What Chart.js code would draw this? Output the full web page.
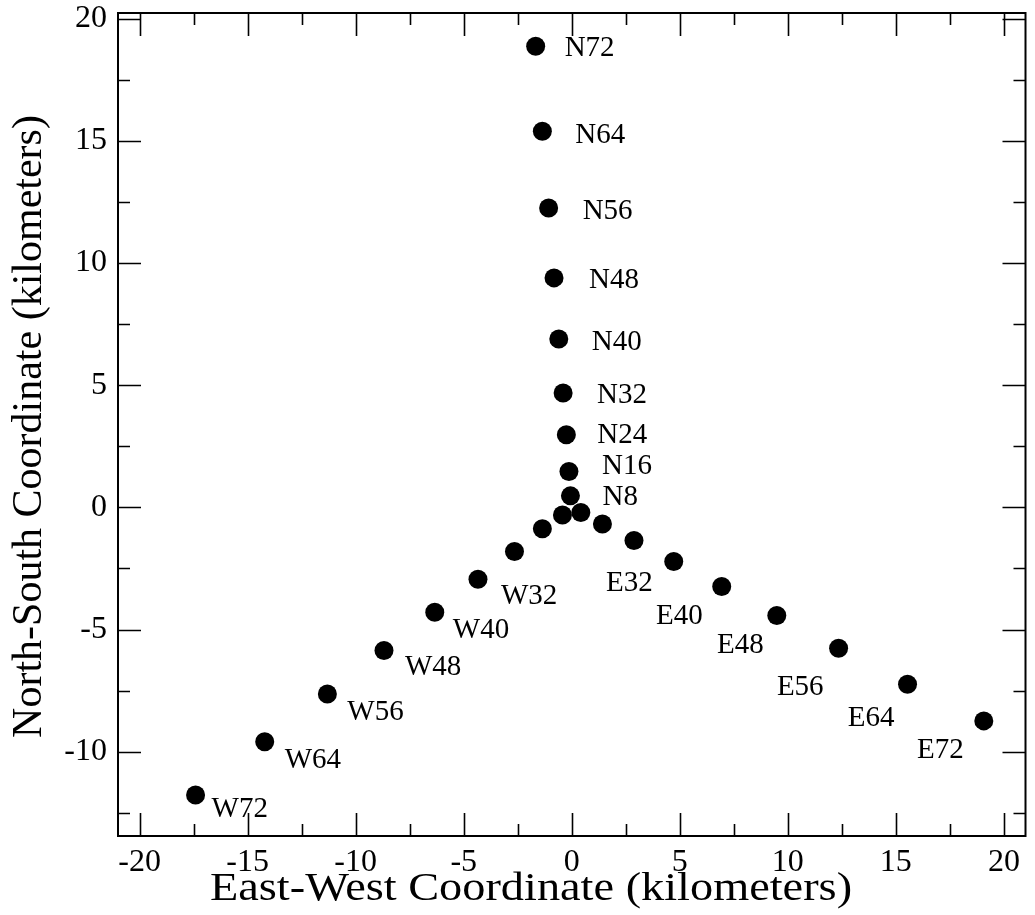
<!DOCTYPE html>
<html>
<head>
<meta charset="utf-8">
<style>
html,body{margin:0;padding:0;background:#ffffff;}
#wrap{width:1035px;height:915px;position:relative;}
</style>
<script src="https://cdn.jsdelivr.net/npm/chart.js@4.4.1/dist/chart.umd.min.js"></script>
</head>
<body>
<div id="wrap"><canvas id="c" width="1035" height="915"></canvas></div>
<script>
// ---- data (kilometers) ----
const northLabels = ["N8","N16","N24","N32","N40","N48","N56","N64","N72"];
const northX = [-0.06, -0.13, -0.25, -0.40, -0.60, -0.82, -1.07, -1.36, -1.67];
const northY = [0.47, 1.47, 2.97, 4.68, 6.89, 9.39, 12.25, 15.39, 18.87];

const westLabels = ["W8","W16","W24","W32","W40","W48","W56","W64","W72"];
const westX = [-0.43, -1.36, -2.65, -4.34, -6.34, -8.69, -11.31, -14.21, -17.41];
const westY = [-0.31, -0.88, -1.81, -2.94, -4.29, -5.86, -7.64, -9.59, -11.77];

const eastLabels = ["E8","E16","E24","E32","E40","E48","E56","E64","E72"];
const eastX = [0.42, 1.42, 2.88, 4.72, 6.94, 9.49, 12.35, 15.54, 19.07];
const eastY = [-0.21, -0.68, -1.36, -2.22, -3.24, -4.43, -5.77, -7.24, -8.74];

// which labels are shown on the picture
const westShown = [false,false,false,true,true,true,true,true,true];
const eastShown = [false,false,false,true,true,true,true,true,true];
const northShown = [true,true,true,true,true,true,true,true,true];

const xTitle = "East-West Coordinate (kilometers)";
const yTitle = "North-South Coordinate (kilometers)";

// ---- styles / label placement (pixel offsets from the marker centre) ----
const northOffsets = [[32,9],[33,3],[31,8],[34,10],[33,11],[35,10],[34,11],[33,12],[29,10]];
const westOffsets  = [[0,0],[0,0],[0,0],[23,25],[18,26],[21,24],[20,26],[20,26],[16,22]];
const eastOffsets  = [[0,0],[0,0],[0,0],[-21,29],[-19,37],[-13,37],[-15,47],[-13,42],[-20,37]];

const FONT = "'Liberation Serif','Times New Roman',serif";

function pts(xs, ys){ return xs.map((x,i)=>({x:x, y:ys[i]})); }

const series = [
  {name:"North", xs:northX, ys:northY, labels:northLabels, shown:northShown, off:northOffsets, align:"left"},
  {name:"West",  xs:westX,  ys:westY,  labels:westLabels,  shown:westShown,  off:westOffsets,  align:"left"},
  {name:"East",  xs:eastX,  ys:eastY,  labels:eastLabels,  shown:eastShown,  off:eastOffsets,  align:"right"}
];

const frameAndTicks = {
  id: "frameAndTicks",
  afterDatasetsDraw(chart){
    const ctx = chart.ctx;
    ctx.save();
    ctx.fillStyle = "#000";
    ctx.font = "29px " + FONT;
    ctx.textBaseline = "alphabetic";
    series.forEach((s, di) => {
      const meta = chart.getDatasetMeta(di);
      meta.data.forEach((el, i) => {
        if (!s.shown[i]) return;
        ctx.textAlign = s.align;
        ctx.fillText(s.labels[i], el.x + s.off[i][0], el.y + s.off[i][1]);
      });
    });
    ctx.restore();
  },
  afterDraw(chart){
    const ctx = chart.ctx;
    const a = chart.chartArea;
    const xs = chart.scales.x, ys = chart.scales.y;
    ctx.save();
    ctx.strokeStyle = "#000";
    ctx.lineWidth = 2;
    ctx.strokeRect(a.left, a.top, a.right - a.left, a.bottom - a.top);
    ctx.lineWidth = 1.6;
    const major = 23, minor = 12, step = 2.5;
    ctx.beginPath();
    for (let v = Math.ceil(xs.min/step)*step; v <= xs.max + 1e-9; v += step) {
      const p = Math.round(xs.getPixelForValue(v)) + 0.5;
      const L = (Math.abs(v/5 - Math.round(v/5)) < 1e-6) ? major : minor;
      ctx.moveTo(p, a.bottom); ctx.lineTo(p, a.bottom - L);
      ctx.moveTo(p, a.top); ctx.lineTo(p, a.top + L);
    }
    for (let v = Math.ceil(ys.min/step)*step; v <= ys.max + 1e-9; v += step) {
      const p = Math.round(ys.getPixelForValue(v)) + 0.5;
      const L = (Math.abs(v/5 - Math.round(v/5)) < 1e-6) ? major : minor;
      ctx.moveTo(a.left, p); ctx.lineTo(a.left + L, p);
      ctx.moveTo(a.right, p); ctx.lineTo(a.right - L, p);
    }
    ctx.stroke();

    // axis titles
    ctx.fillStyle = "#000";
    ctx.textBaseline = "alphabetic";
    ctx.textAlign = "center";
    ctx.save();
    ctx.translate(531, 900);
    ctx.scale(1.13, 1);
    ctx.font = "41px " + FONT;
    ctx.fillText(xTitle, 0, 0);
    ctx.restore();
    ctx.save();
    ctx.translate(41, (a.top + a.bottom) / 2 + 2);
    ctx.rotate(-Math.PI / 2);
    ctx.font = "42px " + FONT;
    ctx.fillText(yTitle, 0, 0);
    ctx.restore();
    ctx.restore();
  }
};

new Chart(document.getElementById("c"), {
  type: "scatter",
  data: {
    datasets: series.map(s => ({
      label: s.name,
      data: pts(s.xs, s.ys),
      backgroundColor: "#000",
      borderColor: "#000",
      borderWidth: 0,
      pointRadius: 9.5,
      pointHoverRadius: 9.5
    }))
  },
  options: {
    responsive: false,
    devicePixelRatio: 1,
    animation: false,
    events: [],
    layout: { padding: { top: 13, right: 9, left: 0, bottom: 0 } },
    plugins: { legend: { display: false }, tooltip: { enabled: false } },
    scales: {
      x: {
        type: "linear",
        min: -21, max: 21,
        grid: { display: false, drawTicks: false },
        border: { display: false },
        ticks: {
          stepSize: 5, includeBounds: false, maxRotation: 0, autoSkip: false,
          color: "#000", padding: 7,
          font: { family: FONT, size: 32 }
        },
        title: { display: false, text: xTitle },
        afterFit(scale){ scale.height = 79; scale.paddingLeft = 0; scale.paddingRight = 0; }
      },
      y: {
        type: "linear",
        min: -13.45, max: 20.23,
        grid: { display: false, drawTicks: false },
        border: { display: false },
        ticks: {
          stepSize: 5, includeBounds: false, autoSkip: false,
          color: "#000", padding: 11,
          font: { family: FONT, size: 32 }
        },
        title: { display: false, text: yTitle },
        afterFit(scale){ scale.width = 118; scale.paddingTop = 0; scale.paddingBottom = 0; }
      }
    }
  },
  plugins: [frameAndTicks]
});
</script>
</body>
</html>
